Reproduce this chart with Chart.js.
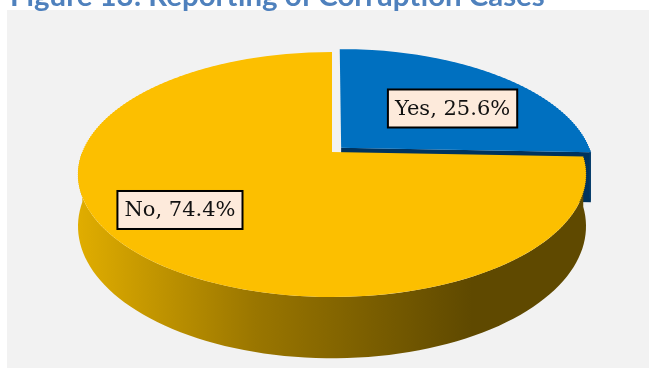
<!DOCTYPE html>
<html>
<head>
<meta charset="utf-8">
<script src="https://cdn.jsdelivr.net/npm/chart.js@4.4.1/dist/chart.umd.min.js"></script>
<style>
  html, body { margin: 0; padding: 0; background: #fff; }
  body { width: 649px; height: 369px; position: relative; overflow: hidden; }
  #title {
    position: absolute; left: 10px; top: -20px; z-index: 2;
    font: 700 26px Lato, sans-serif; color: #4f81bd;
    white-space: nowrap; line-height: 1;
  }
  #panel { position: absolute; left: 7px; top: 10px; width: 642px; height: 358px; background: #f2f2f2; }
  #panel canvas { display: block; }
</style>
</head>
<body>
<div id="title">Figure 13: Reporting of Corruption Cases</div>
<div id="panel"><canvas id="pie" width="642" height="358"></canvas></div>

<script>
const answers = ['Yes', 'No'];
const percentShare = [25.6, 74.4];

// stretch the heading to the width of the line it sits on
const title = document.getElementById('title');
title.style.fontSize = (26 * 535 / title.getBoundingClientRect().width) + 'px';

// perspective of the tilted disc: points nearer the viewer (larger y)
// are magnified by 1 / (1 + persp * dy)
const view = { sx: 0.983, sy: 0.466, persp: -0.1837 / 254, depth: 50, band: 2 };

function project(px, py, cx, cy) {
  const w = 1 + view.persp * (py - cy);
  return [cx + (px - cx) * view.sx / w, cy + (py - cy) * view.sy / w];
}
function unprojectY(y, cy) {
  const d = y - cy;
  return d / (view.sy - view.persp * d);
}
function wallDepth(py, cy) {
  return view.depth / (1 + view.persp * (py - cy));
}

// piecewise-affine map of one horizontal screen band
function bandTransform(ctx, y0, y1, cx, cy) {
  const Y0 = unprojectY(y0, cy), Y1 = unprojectY(y1, cy);
  const ky = (y1 - y0) / (Y1 - Y0);
  const kx = view.sx / (1 + view.persp * (Y0 + Y1) / 2);
  ctx.beginPath();
  ctx.rect(0, y0, ctx.canvas.width, y1 - y0);
  ctx.clip();
  ctx.transform(kx, 0, 0, ky, cx * (1 - kx), y0 - ky * (cy + Y0));
}

function sideFill(ctx, i, cx, R) {
  if (i === 0) return '#003a6a';
  const g = ctx.createLinearGradient(cx - R, 0, cx + 0.55 * R, 0);
  g.addColorStop(0, '#e0ad00');
  g.addColorStop(0.45, '#9a7600');
  g.addColorStop(1, '#5f4900');
  return g;
}

const pie3d = {
  id: 'pie3d',
  beforeDatasetsDraw(chart) {
    const ctx = chart.ctx;
    const arcs = chart.getDatasetMeta(0).data;
    const cx = arcs[0].x, cy = arcs[0].y;

    // side walls first, the tops are painted over them
    arcs.forEach((arc, i) => {
      const { x, y, startAngle: s, endAngle: e, outerRadius: R } = arc;
      const mid = (s + e) / 2;
      const off = (arc.options.offset || 0) / 4;
      const ax = x + Math.cos(mid) * off;
      const ay = y + Math.sin(mid) * off;
      const pt = (px, py, down) => {
        const p = project(px, py, cx, cy);
        if (down) p[1] += wallDepth(py, cy);
        return p;
      };
      const fill = sideFill(ctx, i, x, R);

      // cut face at the end edge, when it turns towards us
      if (Math.cos(e) > 0) {
        const ex = ax + R * Math.cos(e), ey = ay + R * Math.sin(e);
        ctx.beginPath();
        ctx.moveTo(...pt(ax, ay, false));
        ctx.lineTo(...pt(ex, ey, false));
        ctx.lineTo(...pt(ex, ey, true));
        ctx.lineTo(...pt(ax, ay, true));
        ctx.closePath();
        ctx.fillStyle = i === 0 ? '#00335d' : fill;
        ctx.fill();
      }

      // outer rim, only the front half shows
      const a0 = Math.max(s, 0), a1 = Math.min(e, Math.PI);
      if (a1 > a0) {
        const steps = 90;
        ctx.beginPath();
        for (let k = 0; k <= steps; k++) {
          const t = a0 + (a1 - a0) * k / steps;
          const p = pt(ax + R * Math.cos(t), ay + R * Math.sin(t), false);
          k ? ctx.lineTo(...p) : ctx.moveTo(...p);
        }
        for (let k = steps; k >= 0; k--) {
          const t = a0 + (a1 - a0) * k / steps;
          ctx.lineTo(...pt(ax + R * Math.cos(t), ay + R * Math.sin(t), true));
        }
        ctx.closePath();
        ctx.fillStyle = fill;
        ctx.fill();
      }
    });

    // chart.js paints the first band of the tops itself
    ctx.save();
    bandTransform(ctx, 0, view.band, cx, cy);
  },
  afterDatasetsDraw(chart, args, opts) {
    const ctx = chart.ctx;
    ctx.restore();
    const arcs = chart.getDatasetMeta(0).data;
    const cx = arcs[0].x, cy = arcs[0].y;

    // the remaining bands of the tops
    for (let y0 = view.band; y0 < chart.height; y0 += view.band) {
      ctx.save();
      bandTransform(ctx, y0, y0 + view.band, cx, cy);
      arcs.forEach(a => a.draw(ctx));
      ctx.restore();
    }

    // boxed data labels
    ctx.save();
    ctx.font = '21px "DejaVu Serif", serif';
    ctx.textAlign = 'center';
    ctx.textBaseline = 'middle';
    arcs.forEach((arc, i) => {
      const { x, y, startAngle: s, endAngle: e, outerRadius: R } = arc;
      const mid = (s + e) / 2;
      const off = (arc.options.offset || 0) / 4;
      const spot = opts.spots[i];
      const t = mid + spot.turn * Math.PI / 180;
      const [lx, ly] = project(
        x + Math.cos(mid) * off + Math.cos(t) * R * spot.r,
        y + Math.sin(mid) * off + Math.sin(t) * R * spot.r, cx, cy);
      const text = answers[i] + ', ' + percentShare[i].toFixed(1) + '%';
      const w = ctx.measureText(text).width + 14, h = 38;
      ctx.fillStyle = '#fdeadb';
      ctx.fillRect(lx - w / 2, ly - h / 2, w, h);
      ctx.lineWidth = 2;
      ctx.strokeStyle = '#000';
      ctx.strokeRect(lx - w / 2, ly - h / 2, w, h);
      ctx.fillStyle = '#111';
      ctx.fillText(text, lx, ly + 1);
    });
    ctx.restore();
  }
};

new Chart(document.getElementById('pie'), {
  type: 'pie',
  data: {
    labels: answers,
    datasets: [{
      data: percentShare,
      backgroundColor: ['#0070c0', '#fcbf00'],
      borderWidth: 0,
      offset: [52, 0],
      radius: 254,
      clip: false
    }]
  },
  options: {
    responsive: false,
    animation: false,
    events: [],
    layout: { padding: { left: 8, right: 0, top: 0, bottom: 74 } },
    plugins: {
      legend: { display: false },
      tooltip: { enabled: false },
      pie3d: { spots: [{ r: 0.6, turn: 7.2 }, { r: 0.717, turn: 5.1 }] }
    }
  },
  plugins: [pie3d]
});
</script>
</body>
</html>
